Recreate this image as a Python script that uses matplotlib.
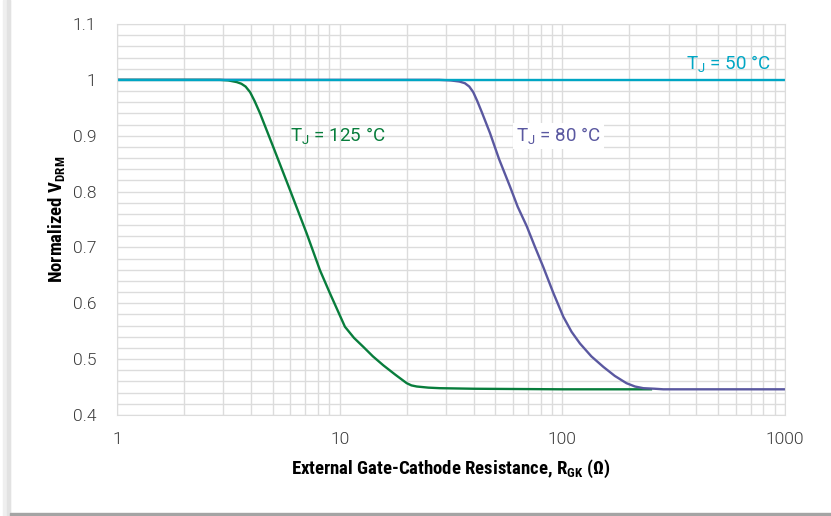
import matplotlib
matplotlib.use("Agg")
import matplotlib.pyplot as plt
from matplotlib.ticker import LogLocator, MultipleLocator, FixedLocator, NullFormatter
from matplotlib.patches import Rectangle

# data
r_50 = [1, 1000]
v_50 = [1.0, 1.0]

r_80 = [1, 28, 31.5, 34.5, 36.5, 38.2, 39.8, 41.5, 43.5, 47.3, 52, 58.2, 63, 69.2,
        75, 82.1, 91, 101, 110, 120, 135, 153, 172, 194, 212, 231, 260, 284, 1000]
v_80 = [1.0, 1.0, 0.999, 0.997, 0.994, 0.988, 0.978, 0.962, 0.942, 0.905, 0.858,
        0.809, 0.773, 0.738, 0.703, 0.665, 0.619, 0.576, 0.549, 0.528, 0.505, 0.486,
        0.47, 0.457, 0.451, 0.448, 0.447, 0.446, 0.446]

r_125 = [1, 2.9, 3.16, 3.45, 3.62, 3.78, 3.96, 4.15, 4.39, 5.03, 5.98, 7.11, 8.16,
         9.04, 10.56, 11.6, 12.77, 14.1, 15.7, 17.8, 20.0, 21.0, 22.2, 25, 28.2, 40,
         100, 250]
v_125 = [1.0, 1.0, 0.999, 0.996, 0.993, 0.988, 0.978, 0.962, 0.94, 0.88, 0.803,
         0.725, 0.659, 0.618, 0.558, 0.538, 0.522, 0.505, 0.489, 0.472, 0.457,
         0.453, 0.451, 0.449, 0.448, 0.447, 0.446, 0.446]

x_ticks = [1, 10, 100, 1000]
y_ticks = [0.4, 0.5, 0.6, 0.7, 0.8, 0.9, 1.0, 1.1]
y_tick_labels = ["0.4", "0.5", "0.6", "0.7", "0.8", "0.9", "1", "1.1"]

c_50 = "#00a6c4"
c_80 = "#5a58a0"
c_125 = "#087d3c"
grid_c = "#dcdcdc"

fig = plt.figure(figsize=(8.31, 5.16), dpi=100)
# frame/shadow of the original picture
fig.patches.append(Rectangle((3 / 831, 0.0), 7 / 831, 1.0, transform=fig.transFigure,
                             color="#efefef", zorder=0))
fig.patches.append(Rectangle((7 / 831, 0.0), 3 / 831, 1.0, transform=fig.transFigure,
                             color="#e2e2e2", zorder=0))
fig.patches.append(Rectangle((10 / 831, 0.0), 1.0, 3 / 516, transform=fig.transFigure,
                             color="#a4a4a4", zorder=0))

ax = fig.add_axes([117 / 831, 1 - 415 / 516, 668 / 831, 391 / 516])
ax.set_xscale("log")
ax.set_xlim(1, 1000)
ax.set_ylim(0.4, 1.1)

ax.xaxis.set_major_locator(FixedLocator(x_ticks))
ax.xaxis.set_minor_locator(LogLocator(base=10, subs=range(2, 10)))
ax.xaxis.set_minor_formatter(NullFormatter())
ax.set_xticklabels([str(t) for t in x_ticks])
ax.set_yticks(y_ticks)
ax.set_yticklabels(y_tick_labels)
ax.yaxis.set_minor_locator(MultipleLocator(0.02))

ax.grid(True, which="both", color=grid_c, linewidth=1.0)
ax.set_axisbelow(True)
for sp in ax.spines.values():
    sp.set_color(grid_c)
ax.tick_params(which="both", length=0, labelsize=12.5, labelcolor="#3a3a3a")
ax.tick_params(axis="y", pad=15)
ax.tick_params(axis="x", pad=12)
for lab in ax.get_xticklabels() + ax.get_yticklabels():
    lab.set_family(["Roboto", "DejaVu Sans"])
    lab.set_fontweight(300)

ax.plot(r_125, v_125, color=c_125, lw=1.7)
ax.plot(r_80, v_80, color=c_80, lw=1.7)
ax.plot(r_50, v_50, color=c_50, lw=1.7)

lab_font = dict(fontsize=13.5, family=["Roboto", "DejaVu Sans"], transform=fig.transFigure)
fig.text(771 / 831, 1 - 64 / 516, r"T$_\mathregular{J}$ = 50 °C", color=c_50,
         ha="right", va="center", **lab_font)
fig.text(516 / 831, 1 - 136 / 516, r"T$_\mathregular{J}$ = 80 °C", color=c_80,
         ha="left", va="center", zorder=5,
         bbox=dict(facecolor="white", edgecolor="none", pad=2), **lab_font)
fig.text(290 / 831, 1 - 136 / 516, r"T$_\mathregular{J}$ = 125 °C", color=c_125,
         ha="left", va="center", **lab_font)

axis_font = dict(fontsize=13.5, fontweight="bold",
                 family=["Roboto Condensed", "DejaVu Sans"])
ax.set_xlabel(r"External Gate-Cathode Resistance, R$_\mathregular{GK}$ (Ω)", labelpad=8,
              **axis_font)
ax.set_ylabel(r"Normalized V$_\mathregular{DRM}$", labelpad=3, **axis_font)

fig.savefig("out.png", dpi=100, facecolor="white")
